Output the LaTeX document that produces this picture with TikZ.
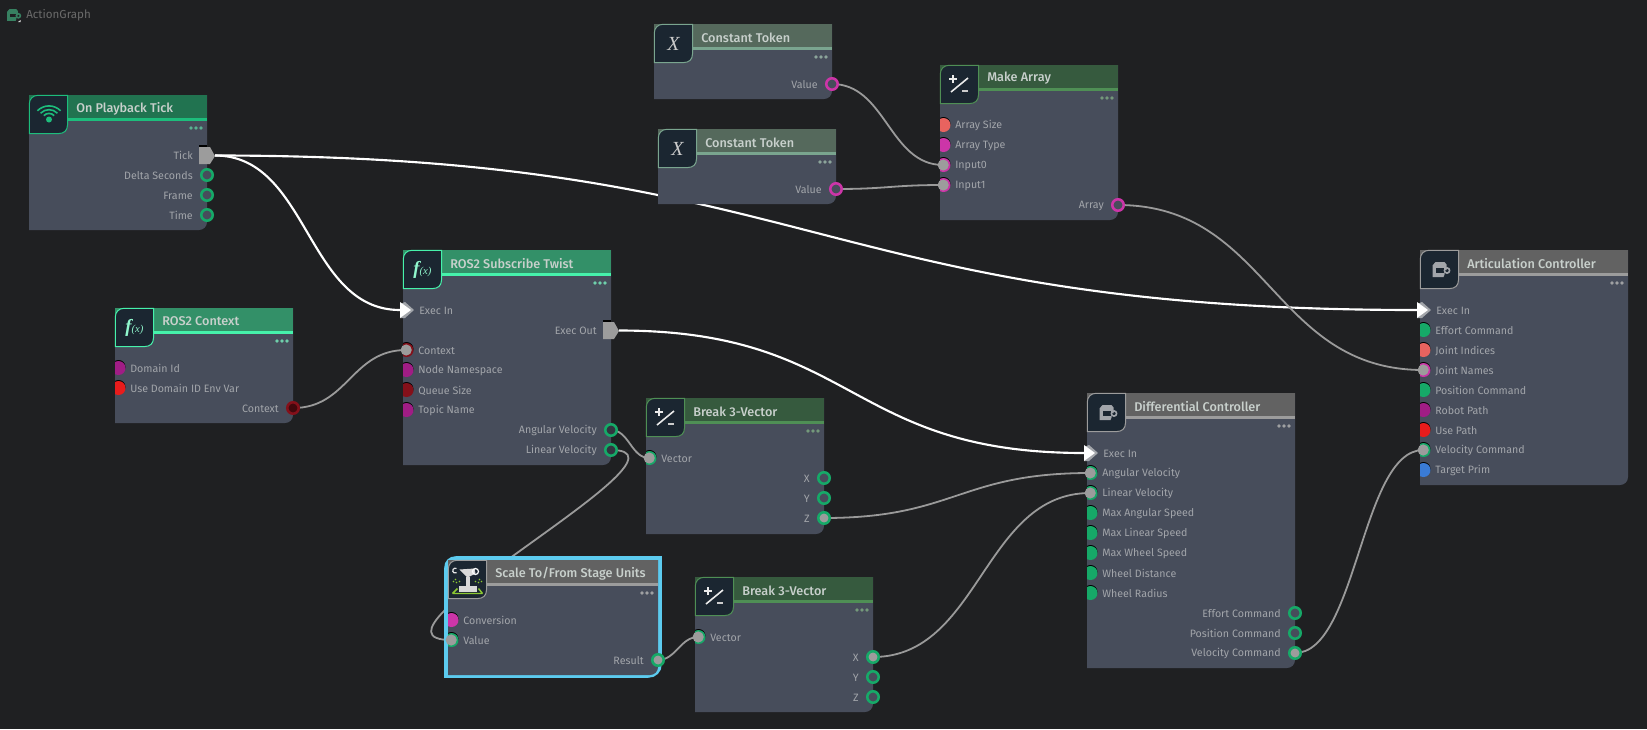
\documentclass[tikz,border=0pt]{standalone}
\usepackage{fontspec}
\setmainfont{Fira Sans}
\newfontfamily\iconserif{Liberation Serif}
\newfontfamily\titlefont{Fira Sans Medium}
\usetikzlibrary{calc}
\definecolor{bgc}{HTML}{1F2022}
\definecolor{bodyc}{HTML}{474D5B}
\definecolor{iconc}{HTML}{1B2631}
\definecolor{labelc}{HTML}{A2A5AA}
\definecolor{titlec}{HTML}{C8D0CC}
\definecolor{wirec}{HTML}{9A9A9A}
\definecolor{pingray}{HTML}{9C9C9C}
\definecolor{pgreen}{HTML}{16A968}
\definecolor{pmag}{HTML}{A01D85}
\definecolor{pbmag}{HTML}{CC35A8}
\definecolor{pdred}{HTML}{84101A}
\definecolor{pred}{HTML}{E81C1C}
\definecolor{psal}{HTML}{E8635F}
\definecolor{pblue}{HTML}{3A7BD5}
\definecolor{tickbar}{HTML}{217350}\definecolor{tickacc}{HTML}{1DBD7C}
\definecolor{rosbar}{HTML}{339068}\definecolor{rosacc}{HTML}{46F2AB}
\definecolor{ctbar}{HTML}{55695C}\definecolor{ctacc}{HTML}{7AA58F}
\definecolor{mathbar}{HTML}{365A3E}\definecolor{mathacc}{HTML}{4F8F55}
\definecolor{ctlbar}{HTML}{626262}\definecolor{ctlacc}{HTML}{9C9C9C}
\definecolor{selc}{HTML}{5CCBEF}
\definecolor{robgreen}{HTML}{8CC832}
\pgfdeclarelayer{bglayer}\pgfdeclarelayer{wirelayer}
\pgfsetlayers{bglayer,wirelayer,main}
\tikzset{
  pinlabel/.style={text=labelc,font=\fontsize{8pt}{9pt}\selectfont,inner sep=0pt,yshift=-0.6pt},
  titletext/.style={text=titlec,font=\titlefont\fontsize{9.5pt}{10pt}\selectfont,inner sep=0pt,anchor=west,yshift=-0.4pt},
  pindisc/.style={circle,inner sep=0pt,minimum size=10.5pt},
  graydisc/.style={circle,inner sep=0pt,minimum size=8.4pt,fill=pingray},
  ringpin/.style={circle,inner sep=0pt,minimum size=8.6pt,line width=1.9pt},
  anchorpt/.style={circle,inner sep=0pt,minimum size=0.5pt},
  wire/.style={draw=wirec,line width=1.35pt},
  execwire/.style={draw=white,line width=1.6pt},
}
% name x1 y1 x2 y2 title bar accent icon
\newcommand\gnode[9]{%
  \fill[bodyc] (#2,#3) -- (#4,#3) -- (#4,{#5-8}) .. controls (#4,{#5-3.5}) and ({#4-3.5},#5) .. ({#4-8},#5) -- (#2,#5) -- cycle;
  \node[inner sep=0pt,minimum size=0pt] (#1) at ({(#2+#4)/2},{(#3+#5)/2}) {};
  \fill[#7] (#2,#3) rectangle (#4,{#3+23});
  \fill[#8] (#2,{#3+23}) rectangle (#4,{#3+26});
  \node[titletext] (#1t) at ({#2+47},{#3+13}) {#6};
  \filldraw[fill=iconc,draw=#8,line width=0.75pt] ({#2+0.3},{#3+9}) .. controls ({#2+0.3},{#3+4}) and ({#2+4},{#3+0.3}) .. ({#2+9},{#3+0.3}) -- ({#2+38.5},{#3+0.3}) -- ({#2+38.5},{#3+30}) .. controls ({#2+38.5},{#3+35.5}) and ({#2+35},{#3+38.5}) .. ({#2+30},{#3+38.5}) -- ({#2+0.3},{#3+38.5}) -- cycle;
  \foreach \dx in {16,11,6}{\fill[#8!55!labelc] ({#4-\dx},{#3+33}) circle[radius=1.9];}
  \begin{scope}[shift={({#2+19.5},{#3+19.5})},y=0.75pt]#9\end{scope}%
}
\newcommand\icwifi{%
  \fill[tickacc] (0.5,-5) circle[radius=3];
  \foreach \r in {6.5,10.5,14.5}{\draw[tickacc,line width=1.2pt] ({0.5-\r*0.8},{-5+\r*0.6}) .. controls ({0.5-\r*0.35},{-5+\r*1.05}) and ({0.5+\r*0.35},{-5+\r*1.05}) .. ({0.5+\r*0.8},{-5+\r*0.6});}%
}
\newcommand\icfx[1]{\node[inner sep=0pt,text=#1] at (0,0) {\iconserif\fontsize{14pt}{14pt}\selectfont\bfseries\itshape f\fontsize{8pt}{8pt}\selectfont\mdseries(x)};}
\newcommand\icx{\node[inner sep=0pt,text=white!80!black] at (0,0) {\iconserif\fontsize{15pt}{15pt}\selectfont\itshape X};}
\newcommand\icmath{%
  \draw[white!92!black,line width=1.2pt] (-8.5,-7.5) -- (8.5,6.5);
  \draw[white!92!black,line width=1.4pt] (-10.5,5.5) -- (-2.5,5.5) (-6.5,1.5) -- (-6.5,9.5);
  \draw[white!80!black,line width=1pt] (2.5,-6.5) -- (8.5,-6.5);}
\newcommand\icctl[2]{%
  \fill[#1] (-4,7.5) -- (5,7.5) -- (7,5) -- (7,-0.5) -- (5,-0.5) -- (5,-5) -- (4,-7.5) -- (-7,-7.5) -- (-7,4) -- cycle;
  \fill[#2] (-3.5,1.5) rectangle (4.5,-3);
  \draw[#1,line width=1.2pt] (7.5,-1) circle[radius=2.6];}
\newcommand\icrobot{%
  \fill[white!85!black] (-9,-6) rectangle (9,-12);
  \fill[white!85!black] (-2,-6) rectangle (2,3);
  \fill[white!85!black] (-8,10) -- (7,11) -- (8,6) -- (0,2) -- cycle;
  \draw[white!90!black,line width=0.9pt] (-11,11) arc[start angle=60,end angle=300,radius=2.5];
  \draw[white,line width=0.9pt] (8,8) circle[radius=3];
  \draw[robgreen,line width=1.1pt] (-15,-14) -- (15,-14) (-15,-14) -- (-10,-9) (15,-14) -- (11,-9);
  \foreach \p in {(-14,-2),(-11,-3),(-8,-2),(-12,0),(14,-2),(11,-3),(8,-2),(12,0)}{\fill[robgreen] \p circle[radius=0.8];}}
% input pins: unconnected
\newcommand\inpin[5]{%
  \begin{scope}\clip (#2,{#3-10}) rectangle ({#2+14},{#3+10});
  \fill[black] ({#2+3.5},{#3-1}) circle[radius=7];
  \node[pindisc,fill=#4] (#1) at ({#2+3.5},#3) {};
  \end{scope}
  \node[pinlabel,anchor=west] (#1l) at ({#2+15},#3) {#5};}
% input pins: connected
\newcommand\inpinc[5]{%
  \begin{scope}\clip (#2,{#3-10}) rectangle ({#2+14},{#3+10});
  \fill[black] ({#2+3.5},{#3-1}) circle[radius=7];
  \fill[#4] ({#2+3.5},#3) circle[radius=7];
  \end{scope}
  \node[graydisc] (#1) at ({#2+3.2},#3) {};
  \node[pinlabel,anchor=west] (#1l) at ({#2+15},#3) {#5};}
% output ring pin: name x y ring inner label
\newcommand\outpin[6]{%
  \node[ringpin,draw=#4,fill=#5] (#1) at (#2,#3) {};
  \node[pinlabel,anchor=east] (#1l) at ({#2-14},#3) {#6};}
% exec pins
\newcommand\execin[4]{%
  \fill[labelc] ({#2-3},{#3-6}) -- ({#2+2},{#3-8}) -- ({#2+11},#3) -- ({#2+2},{#3+8}) -- ({#2-3},{#3+8}) -- cycle;
  \fill[white] ({#2-3},{#3-8}) -- ({#2+8},#3) -- ({#2-3},{#3+8}) -- cycle;
  \node[anchorpt] (#1) at ({#2-3},#3) {};
  \node[pinlabel,anchor=west] (#1l) at ({#2+16},#3) {#4};}
\newcommand\execout[4]{%
  \fill[black] ({#2-8},{#3-10}) rectangle ({#2},{#3-8});
  \fill[pingray] ({#2-8},{#3-8}) -- ({#2+3},{#3-8}) -- ({#2+8},{#3+1}) -- ({#2+3},{#3+9}) -- ({#2-8},{#3+9}) -- cycle;
  \node[anchorpt] (#1) at ({#2+8},{#3+0.5}) {};
  \node[pinlabel,anchor=east] (#1l) at ({#2-14},#3) {#4};}
\newcommand\conn[4][wire]{\draw[#1] (#2.center) .. controls ($(#2.center)+(#4,0)$) and ($(#3.center)+(-#4,0)$) .. (#3.center);}
\begin{document}
\begin{tikzpicture}[x=0.75pt,y=-0.75pt]
\useasboundingbox (0,0) rectangle (1647,729);
\begin{pgfonlayer}{bglayer}
\fill[bgc] (0,0) rectangle (1647,729);
\end{pgfonlayer}
% title of the graph
\begin{scope}[shift={(12.5,15)},y=0.75pt]
\begin{scope}[scale=0.78]\icctl{tickbar!90!white}{bgc}\end{scope}
\fill[white!85!black] (5.5,-7) -- (8,-7) -- (8,-5) -- cycle;
\end{scope}
\node[inner sep=0pt,anchor=west,text=white!42!black,font=\fontsize{8.7pt}{10pt}\selectfont] (graphtitle) at (26,15) {ActionGraph};

% On Playback Tick
\gnode{tick}{29}{95}{207}{230}{On Playback Tick}{tickbar}{tickacc}{\icwifi}
\execout{tickout}{207}{155}{Tick}
\outpin{tickdelta}{207}{175}{pgreen}{bodyc}{Delta Seconds}
\outpin{tickframe}{207}{195}{pgreen}{bodyc}{Frame}
\outpin{ticktime}{207}{215}{pgreen}{bodyc}{Time}

% ROS2 Context
\gnode{ctx}{115}{308}{293}{423}{ROS2 Context}{rosbar}{rosacc}{\icfx{rosacc!60!white}}
\inpin{ctxdom}{115}{368}{pmag}{Domain Id}
\inpin{ctxenv}{115}{388}{pred}{Use Domain ID Env Var}
\outpin{ctxout}{293}{408}{pdred}{black!50!pdred}{Context}

% ROS2 Subscribe Twist
\gnode{sub}{403}{250}{611}{465}{ROS2 Subscribe Twist}{rosbar}{rosacc}{\icfx{rosacc!60!white}}
\execin{subexec}{403}{310}{Exec In}
\execout{subout}{611}{330}{Exec Out}
\inpinc{subctx}{403}{350}{pdred}{Context}
\inpin{subns}{403}{370}{pmag}{Node Namespace}
\inpin{subq}{403}{390}{pdred}{Queue Size}
\inpin{subtopic}{403}{410}{pmag}{Topic Name}
\outpin{subang}{611}{430}{pgreen}{black!30!bodyc}{Angular Velocity}
\outpin{sublin}{611}{450}{pgreen}{black!30!bodyc}{Linear Velocity}

% Constant Tokens
\gnode{ct1}{654}{24}{832}{99}{Constant Token}{ctbar}{ctacc}{\icx}
\outpin{ct1v}{832}{84}{pbmag}{bodyc}{Value}
\gnode{ct2}{658}{129}{836}{204}{Constant Token}{ctbar}{ctacc}{\icx}
\outpin{ct2v}{836}{189}{pbmag}{bodyc}{Value}

% Make Array
\gnode{arr}{940}{65}{1118}{220}{Make Array}{mathbar}{mathacc}{\icmath}
\inpin{arrsize}{940}{125}{psal}{Array Size}
\inpin{arrtype}{940}{145}{pbmag}{Array Type}
\inpinc{arri0}{940}{165}{pbmag}{Input0}
\inpinc{arri1}{940}{185}{pbmag}{Input1}
\outpin{arrout}{1118}{205}{pbmag}{bodyc}{Array}

% Break 3-Vector (upper)
\gnode{bra}{646}{398}{824}{534}{Break 3-Vector}{mathbar}{mathacc}{\icmath}
\inpinc{brav}{646}{458}{pgreen}{Vector}
\outpin{brax}{824}{478}{pgreen}{bodyc}{X}
\outpin{bray}{824}{498}{pgreen}{bodyc}{Y}
\outpin{braz}{824}{518}{pgreen}{pingray}{Z}

% Scale To/From Stage Units
\draw[selc,line width=2.7pt] (446,568) .. controls (446,562) and (450,558) .. (456,558) -- (660,558) -- (660,664) .. controls (660,671) and (655,676) .. (648,676) -- (446,676) -- cycle;
\gnode{scl}{448}{560}{658}{675}{Scale To/From Stage Units}{ctlbar}{ctlacc}{\icrobot}
\inpin{sclconv}{448}{620}{pbmag}{Conversion}
\inpinc{sclval}{448}{640}{pgreen}{Value}
\outpin{sclres}{658}{660}{pgreen}{pingray}{Result}

% Break 3-Vector (lower)
\gnode{brb}{695}{577}{873}{712}{Break 3-Vector}{mathbar}{mathacc}{\icmath}
\inpinc{brbv}{695}{637}{pgreen}{Vector}
\outpin{brbx}{873}{657}{pgreen}{pingray}{X}
\outpin{brby}{873}{677}{pgreen}{bodyc}{Y}
\outpin{brbz}{873}{697}{pgreen}{bodyc}{Z}

% Differential Controller
\gnode{dif}{1087}{393}{1295}{668}{Differential Controller}{ctlbar}{ctlacc}{\icctl{labelc}{iconc}}
\execin{difexec}{1087}{453}{Exec In}
\inpinc{difang}{1087}{473}{pgreen}{Angular Velocity}
\inpinc{diflin}{1087}{493}{pgreen}{Linear Velocity}
\inpin{difmang}{1087}{513}{pgreen}{Max Angular Speed}
\inpin{difmlin}{1087}{533}{pgreen}{Max Linear Speed}
\inpin{difmwh}{1087}{553}{pgreen}{Max Wheel Speed}
\inpin{difwd}{1087}{573}{pgreen}{Wheel Distance}
\inpin{difwr}{1087}{593}{pgreen}{Wheel Radius}
\outpin{difeff}{1295}{613}{pgreen}{bodyc}{Effort Command}
\outpin{difpos}{1295}{633}{pgreen}{bodyc}{Position Command}
\outpin{difvel}{1295}{653}{pgreen}{pingray}{Velocity Command}

% Articulation Controller
\gnode{art}{1420}{250}{1628}{485}{Articulation Controller}{ctlbar}{ctlacc}{\icctl{labelc}{iconc}}
\execin{artexec}{1420}{310}{Exec In}
\inpin{arteff}{1420}{330}{pgreen}{Effort Command}
\inpin{artidx}{1420}{350}{psal}{Joint Indices}
\inpinc{artnames}{1420}{370}{pbmag}{Joint Names}
\inpin{artpos}{1420}{390}{pgreen}{Position Command}
\inpin{artrobot}{1420}{410}{pmag}{Robot Path}
\inpin{artuse}{1420}{430}{pred}{Use Path}
\inpinc{artvel}{1420}{450}{pgreen}{Velocity Command}
\inpin{arttarget}{1420}{470}{pblue}{Target Prim}

% connectors, behind the nodes
\begin{pgfonlayer}{wirelayer}
\conn[execwire]{tickout}{subexec}{94}
\conn[execwire]{tickout}{artexec}{602}
\conn[execwire]{subout}{difexec}{238}
\conn{ctxout}{subctx}{55}
\conn{ct1v}{arri0}{54}
\conn{ct2v}{arri1}{52}
\conn{arrout}{artnames}{151}
\conn{subang}{brav}{18}
\draw[wire] (sublin.center) .. controls ($(sublin.center)+(100,0)$) and ($(sclval.center)+(-108,0)$) .. (sclval.center);
\conn{sclres}{brbv}{18}
\conn{braz}{difang}{131}
\conn{brbx}{diflin}{107}
\conn{difvel}{artvel}{62}
\end{pgfonlayer}
\end{tikzpicture}
\end{document}
